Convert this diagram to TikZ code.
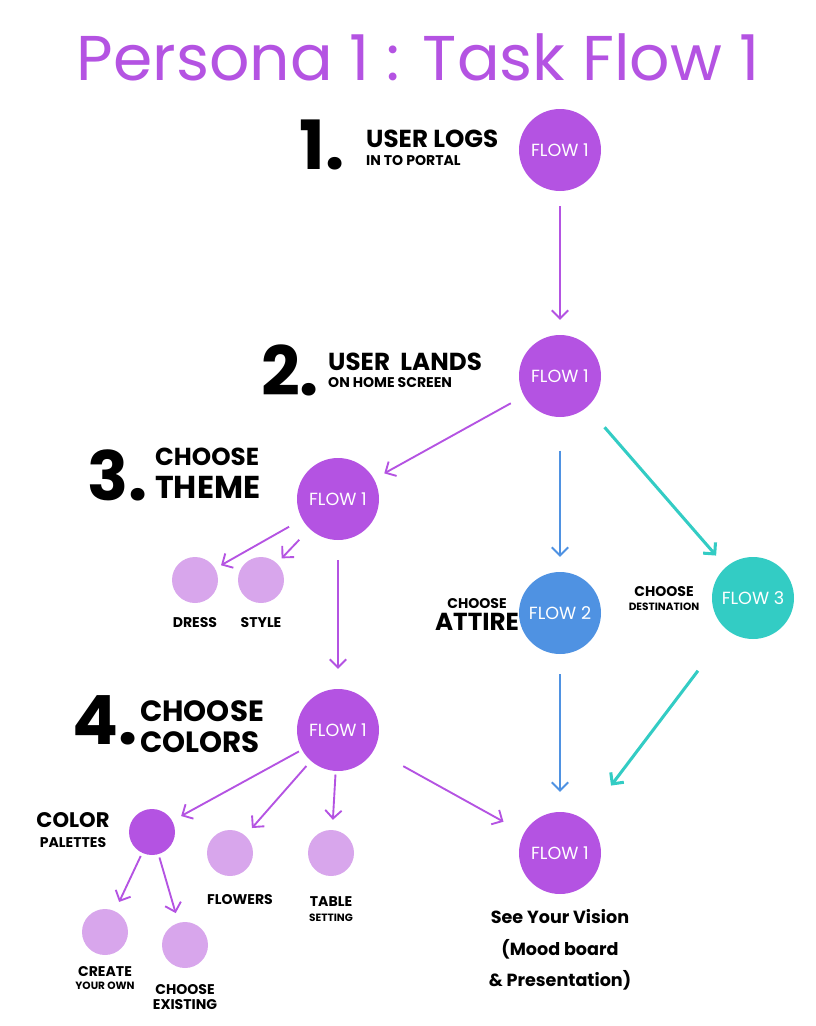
\documentclass[tikz,border=0pt]{standalone}
\usepackage{fontspec}
\setmainfont{Poppins}
\usetikzlibrary{arrows.meta}
\definecolor{flowpurple}{HTML}{B453E2}
\definecolor{lightpurple}{HTML}{D8A6EC}
\definecolor{flowblue}{HTML}{4F92E2}
\definecolor{flowteal}{HTML}{33CCC4}
\tikzset{
  flow/.style={circle, minimum size=82*0.03cm, inner sep=0pt, text=white, font=\fontsize{15}{15}\selectfont},
  sub/.style={circle, fill=lightpurple, minimum size=46*0.03cm, inner sep=0pt},
  stepnum/.style={font=\fontsize{58}{58}\selectfont\bfseries},
  big/.style={font=\fontsize{21}{21}\selectfont\bfseries, inner sep=0pt},
  small/.style={font=\fontsize{12}{12}\selectfont\bfseries, inner sep=0pt},
  tiny/.style={font=\fontsize{9}{9}\selectfont\bfseries, inner sep=0pt},
  arr/.style={-{Straight Barb[length=7pt,width=14pt]}, line width=1.6pt, shorten <=0.45cm, shorten >=0.45cm},
}
\begin{document}
\begin{tikzpicture}[x=0.03cm, y=-0.03cm]
  \useasboundingbox (0,0) rectangle (816,1026);
  % title
  \node[text=flowpurple, font=\fontsize{54}{54}\selectfont] (title) at (418,57) {Persona 1 : Task Flow 1};

  % flow circles
  \node[flow, fill=flowpurple] (login) at (560,150) {FLOW 1};
  \node[flow, fill=flowpurple] (home) at (560,376) {FLOW 1};
  \node[flow, fill=flowpurple] (theme) at (338,499) {FLOW 1};
  \node[flow, fill=flowblue] (attire) at (560,613) {FLOW 2};
  \node[flow, fill=flowteal] (dest) at (753,598) {FLOW 3};
  \node[flow, fill=flowpurple] (colors) at (338,730) {FLOW 1};
  \node[flow, fill=flowpurple] (vision) at (560,853) {FLOW 1};

  % small circles
  \node[sub] (dress) at (195,580) {};
  \node[sub] (style) at (261,580) {};
  \node[sub, fill=flowpurple] (palettes) at (152,832) {};
  \node[sub] (flowers) at (230,853) {};
  \node[sub] (table) at (331,853) {};
  \node[sub] (create) at (105,932) {};
  \node[sub] (existing) at (185,945) {};

  % step labels
  \node[stepnum] (one) at (322,145) {1.};
  \node[big, anchor=west] (logsa) at (366,139) {USER LOGS};
  \node[small, anchor=west] (logsb) at (366,161) {IN TO PORTAL};
  \node[stepnum] (two) at (290,370) {2.};
  \node[big, anchor=west] (landsa) at (328,362) {USER\ \ LANDS};
  \node[small, anchor=west] (landsb) at (328,383) {ON HOME SCREEN};
  \node[stepnum] (three) at (118,475) {3.};
  \node[big, anchor=west] (themea) at (155,457) {CHOOSE};
  \node[font=\fontsize{27}{27}\selectfont\bfseries, inner sep=0pt, anchor=west] (themeb) at (155,487) {THEME};
  \node[stepnum] (four) at (105,720) {4.};
  \node[font=\fontsize{25}{25}\selectfont\bfseries, inner sep=0pt, anchor=west] (colorsa) at (140,711) {CHOOSE};
  \node[font=\fontsize{25}{25}\selectfont\bfseries, inner sep=0pt, anchor=west] (colorsb) at (140,742) {COLORS};
  \node[small] (attirea) at (477,604) {CHOOSE};
  \node[big] (attireb) at (477,622) {ATTIRE};
  \node[small] (desta) at (664,592) {CHOOSE};
  \node[tiny] (destb) at (664,607) {DESTINATION};
  \node[font=\fontsize{18}{18}\selectfont\bfseries, inner sep=0pt] (palettesa) at (73,820) {COLOR};
  \node[small] (palettesb) at (73,843) {PALETTES};

  % small labels
  \node[small] (dresslbl) at (195,623) {DRESS};
  \node[small] (stylelbl) at (261,623) {STYLE};
  \node[small] (flowerslbl) at (240,900) {FLOWERS};
  \node[small] (tablea) at (331,902) {TABLE};
  \node[tiny] (tableb) at (331,918) {SETTING};
  \node[small] (createa) at (105,972) {CREATE};
  \node[tiny] (createb) at (105,986) {YOUR OWN};
  \node[small] (existinga) at (185,990) {CHOOSE};
  \node[small] (existingb) at (185,1005) {EXISTING};
  \node[font=\fontsize{15}{27}\selectfont\bfseries, align=center] (visionlbl) at (560,950) {See Your Vision\\(Mood board\\\& Presentation)};

  % arrows
  \draw[arr, flowpurple] (login) -- (home);
  \draw[arr, flowpurple, shorten >=0.35cm] (home) -- (theme);
  \draw[arr, flowblue, shorten <=1cm] (home) -- (attire);
  \draw[arr, flowteal, line width=2.6pt, shorten <=0.8cm] (home) -- (dest);
  \draw[arr, flowpurple, shorten >=0.2cm] (theme) -- (dress);
  \draw[arr, flowpurple, shorten >=0.2cm] (theme) -- (style);
  \draw[arr, flowpurple, shorten <=0.6cm, shorten >=0.6cm] (theme) -- (colors);
  \draw[arr, flowblue, shorten <=0.6cm, shorten >=0.6cm] (attire) -- (vision);
  \draw[arr, flowteal, line width=2.6pt, shorten <=1.5cm, shorten >=1.3cm] (dest) -- (vision);
  \draw[arr, flowpurple, shorten <=1cm, shorten >=0.7cm] (colors) -- (vision);
  \draw[arr, flowpurple, shorten <=0.1cm, shorten >=0.3cm] (colors) -- (palettes);
  \draw[arr, flowpurple, shorten <=0.2cm, shorten >=0.3cm] (colors) -- (flowers);
  \draw[arr, flowpurple, shorten <=0.1cm, shorten >=0.3cm] (colors) -- (table);
  \draw[arr, flowpurple, shorten <=0.1cm, shorten >=0.3cm] (palettes) -- (create);
  \draw[arr, flowpurple, shorten <=0.1cm, shorten >=0.3cm] (palettes) -- (existing);
\end{tikzpicture}
\end{document}
